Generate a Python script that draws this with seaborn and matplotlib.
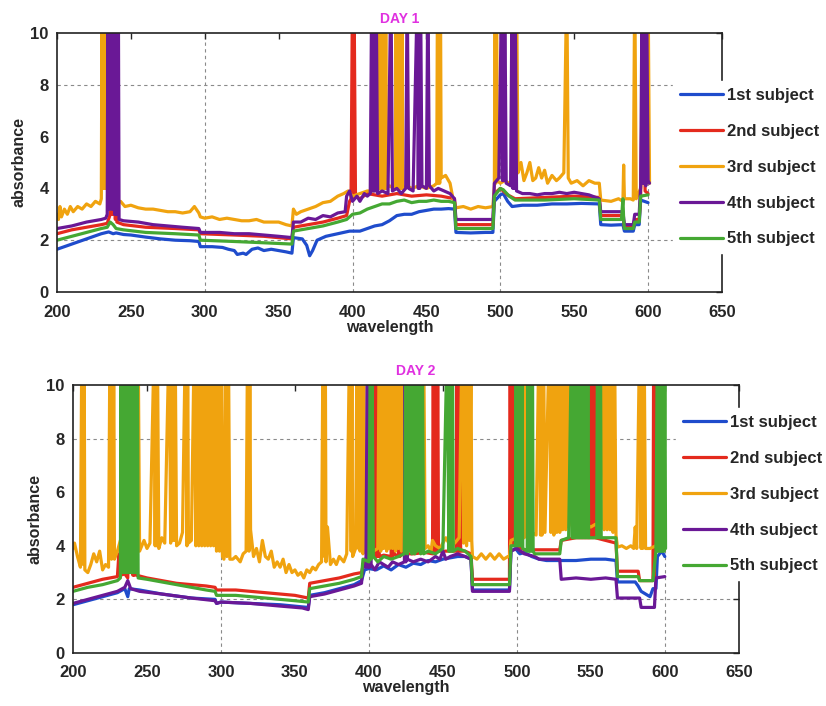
import matplotlib
matplotlib.use("Agg")
import matplotlib.pyplot as plt
import pandas as pd
import seaborn as sns

subjects = ["1st subject", "2nd subject", "3rd subject", "4th subject", "5th subject"]
colors = ["#1f4ccc", "#e42a1d", "#f0a30f", "#6a1896", "#45a833"]

# (wavelength, absorbance); 12 = clipped spike
day1_1st = [(200, 1.65), (205, 1.75), (210, 1.85), (215, 1.95), (220, 2.05), (225, 2.15), (230, 2.25), (235, 2.32),
            (238, 2.25), (240, 2.28), (245, 2.22), (250, 2.2), (260, 2.12), (270, 2.05), (280, 2.0), (290, 1.98),
            (296, 1.95), (297, 1.75), (305, 1.75), (312, 1.72), (316, 1.65), (320, 1.6), (322, 1.45), (326, 1.5),
            (328, 1.45), (332, 1.65), (336, 1.7), (340, 1.6), (345, 1.65), (350, 1.6), (355, 1.55), (359, 1.5),
            (360, 2.1), (366, 2.05), (369, 1.8), (371, 1.4), (373, 1.6), (376, 2.0), (382, 2.15), (390, 2.25),
            (398, 2.35), (405, 2.35), (410, 2.45), (415, 2.55), (420, 2.6), (425, 2.75), (430, 2.95), (435, 3.0),
            (440, 3.0), (445, 3.1), (450, 3.15), (455, 3.2), (460, 3.2), (465, 3.22), (469, 3.2), (470, 2.3),
            (480, 2.28), (490, 2.3), (495, 2.3), (496, 3.5), (500, 3.75), (502, 3.8), (505, 3.5), (508, 3.3),
            (515, 3.35), (525, 3.35), (535, 3.4), (545, 3.4), (555, 3.42), (567, 3.4), (568, 2.6), (575, 2.58),
            (583, 2.6), (584, 2.35), (590, 2.35), (591, 2.6), (594, 2.6), (595, 3.55), (600, 3.45)]

day1_2nd = [(200, 2.25), (210, 2.4), (220, 2.5), (230, 2.6), (234, 2.65), (236, 3.0), (237, 12), (237.5, 3.0),
            (238, 12), (238.5, 3.0), (239, 12), (239.5, 2.8), (240, 12), (240.5, 2.7), (245, 2.6), (260, 2.5),
            (280, 2.45), (296, 2.4), (297, 2.25), (320, 2.2), (340, 2.15), (359, 2.05), (360, 2.5), (370, 2.6),
            (380, 2.7), (390, 2.85), (396, 2.95), (398, 3.5), (399, 3.6), (400, 12), (400.5, 3.6), (401, 12),
            (402, 3.7), (405, 3.6), (410, 3.8), (420, 3.7), (430, 3.8), (440, 3.7), (450, 3.75), (460, 3.7),
            (469, 3.6), (470, 2.6), (495, 2.6), (496, 3.8), (500, 4.0), (505, 3.75), (510, 3.6), (530, 3.65),
            (550, 3.7), (567, 3.65), (568, 2.95), (583, 2.95), (584, 2.5), (590, 2.5), (591, 2.8), (594, 2.8),
            (595, 3.7), (597, 12), (598, 3.9), (600, 3.8)]

day1_3rd = [(200, 3.0), (201, 2.8), (202, 3.3), (203, 2.9), (205, 3.2), (207, 3.0), (209, 3.3), (211, 3.1),
            (214, 3.3), (217, 3.2), (220, 3.4), (223, 3.3), (226, 3.5), (229, 3.4), (230, 3.6), (230.5, 12),
            (231, 4), (231.5, 12), (232, 4), (232.5, 12), (233, 4), (233.5, 12), (234, 4), (234.5, 12), (235, 3.5),
            (236, 3.2), (238, 3.3), (240, 3.4), (243, 3.5), (246, 3.3), (250, 3.35), (255, 3.25), (260, 3.2),
            (265, 3.2), (270, 3.15), (275, 3.1), (280, 3.1), (285, 3.05), (290, 3.1), (293, 3.3), (296, 3.05),
            (297, 2.9), (300, 2.85), (305, 2.9), (310, 2.8), (315, 2.85), (320, 2.8), (325, 2.75), (330, 2.75),
            (335, 2.8), (340, 2.7), (345, 2.7), (350, 2.7), (355, 2.6), (359, 2.55), (360, 3.2), (362, 3.0),
            (365, 3.1), (370, 3.2), (375, 3.3), (380, 3.45), (385, 3.5), (390, 3.7), (394, 3.8), (397, 3.9),
            (400, 3.7), (405, 3.8), (410, 3.9), (414, 3.9), (417, 4), (417.5, 12), (418, 4), (418.5, 12), (419, 4),
            (419.5, 12), (420, 4), (420.5, 12), (421, 4), (421.5, 12), (422, 4), (422.5, 12), (423, 4), (425, 4.1),
            (428, 4), (429, 4), (429.5, 12), (430, 4), (430.5, 12), (431, 4), (431.5, 12), (432, 4), (432.5, 12),
            (433, 4), (433.5, 12), (434, 4), (437, 4.1), (440, 4.0), (445, 4.1), (450, 4.0), (455, 4.1),
            (457, 4.2), (457.5, 12), (458, 4.2), (458.5, 12), (459, 4.2), (459.5, 12), (460, 4.4), (463, 4.5),
            (466, 4.2), (468, 3.6), (469, 3.5), (470, 3.25), (475, 3.3), (480, 3.2), (485, 3.3), (490, 3.25),
            (495, 3.3), (496, 4.1), (496.5, 12), (497, 4.2), (497.5, 12), (498, 4.3), (500, 4.2), (503, 4.3),
            (506, 4.2), (509, 4.3), (511, 12), (512, 4.6), (514, 5.0), (516, 4.3), (518, 4.6), (520, 5.0),
            (522, 4.3), (524, 4.4), (526, 4.8), (528, 4.4), (530, 4.7), (532, 4.2), (535, 4.5), (538, 4.3),
            (540, 4.4), (543, 4.6), (545, 12), (546, 4.4), (548, 4.2), (552, 4.3), (556, 4.1), (560, 4.3),
            (564, 4.2), (567, 4.2), (568, 3.55), (575, 3.5), (580, 3.6), (583, 3.5), (583.5, 4.9), (584, 3.6),
            (588, 3.6), (590, 3.55), (591, 12), (592, 3.6), (595, 4.0), (600, 12), (601, 4.2)]

day1_4th = [(200, 2.45), (210, 2.55), (220, 2.7), (230, 2.8), (233, 2.85), (234, 3.0), (234.5, 12), (235, 3.2),
            (235.5, 12), (236, 3.2), (236.5, 12), (237, 3.2), (237.5, 12), (238, 3.2), (238.5, 12), (239, 3.0),
            (239.5, 12), (240, 3.0), (240.5, 12), (241, 3.0), (241.5, 12), (242, 2.8), (245, 2.75), (255, 2.7),
            (265, 2.6), (275, 2.55), (285, 2.5), (296, 2.45), (297, 2.3), (310, 2.3), (320, 2.25), (330, 2.25),
            (340, 2.2), (350, 2.15), (359, 2.1), (360, 2.7), (365, 2.7), (370, 2.85), (375, 2.8), (380, 2.95),
            (385, 2.9), (390, 3.05), (395, 3.1), (396, 3.7), (398, 3.9), (400, 3.5), (403, 3.7), (405, 3.5),
            (408, 3.8), (410, 3.7), (412, 3.8), (413, 12), (413.5, 3.9), (414, 12), (414.5, 3.9), (415, 12),
            (415.5, 3.9), (416, 12), (417, 3.8), (420, 3.9), (424, 3.8), (426, 12), (427, 3.9), (430, 4.0),
            (433, 3.8), (436, 4.0), (437, 12), (438, 4.0), (441, 3.9), (444, 12), (444.5, 4.0), (445, 12),
            (445.5, 4.0), (446, 12), (447, 4.1), (450, 4.0), (451, 12), (452, 4.1), (455, 3.9), (458, 4.0),
            (462, 3.9), (466, 3.8), (469, 3.6), (470, 2.8), (480, 2.8), (490, 2.8), (495, 2.8), (496, 4.2),
            (499, 4.4), (501, 12), (501.5, 4.3), (502, 12), (502.5, 4.3), (503, 12), (504, 4.2), (507, 4.1),
            (508, 12), (508.5, 4.0), (509, 12), (509.5, 4.0), (510, 12), (511, 3.9), (515, 3.8), (520, 3.8),
            (525, 3.75), (530, 3.8), (535, 3.8), (540, 3.85), (545, 3.8), (550, 3.85), (555, 3.8), (560, 3.75),
            (567, 3.6), (568, 3.1), (575, 3.1), (583, 3.1), (584, 2.6), (590, 2.6), (591, 3.0), (594, 3.0),
            (595, 4.1), (596, 12), (596.5, 4.2), (597, 12), (597.5, 4.2), (598, 12), (598.5, 4.1), (599, 12),
            (600, 4.3), (601, 4.2)]

day1_5th = [(200, 2.0), (210, 2.15), (220, 2.3), (230, 2.45), (234, 2.5), (236, 2.7), (238, 2.6), (240, 2.45),
            (245, 2.4), (260, 2.3), (280, 2.25), (296, 2.2), (297, 2.0), (320, 1.95), (340, 1.9), (359, 1.85),
            (360, 2.35), (370, 2.45), (380, 2.55), (390, 2.7), (396, 2.8), (400, 3.0), (405, 3.05), (410, 3.2),
            (415, 3.3), (420, 3.4), (425, 3.4), (430, 3.5), (435, 3.55), (440, 3.45), (445, 3.5), (450, 3.5),
            (455, 3.55), (460, 3.5), (465, 3.5), (469, 3.45), (470, 2.45), (495, 2.45), (496, 3.7), (500, 4.0),
            (502, 3.95), (506, 3.7), (510, 3.55), (530, 3.55), (550, 3.6), (567, 3.55), (568, 2.8), (582, 2.8),
            (583, 3.6), (583.5, 2.8), (584, 2.45), (590, 2.45), (591, 2.7), (594, 2.7), (595, 3.7), (600, 3.75)]

day2_1st = [(200, 1.8), (210, 1.95), (220, 2.1), (230, 2.25), (235, 2.4), (237, 2.1), (238, 2.4), (245, 2.35),
            (260, 2.2), (280, 2.05), (296, 2.0), (297, 1.85), (300, 1.9), (320, 1.85), (340, 1.8), (355, 1.72),
            (359, 1.7), (360, 2.15), (370, 2.25), (380, 2.4), (390, 2.55), (395, 2.7), (397, 3.1), (400, 3.15),
            (405, 3.1), (410, 3.25), (415, 3.1), (420, 3.3), (425, 3.2), (430, 3.35), (435, 3.3), (440, 3.45),
            (445, 3.4), (450, 3.5), (455, 3.55), (460, 3.6), (465, 3.6), (469, 3.5), (470, 2.35), (495, 2.35),
            (496, 3.8), (499, 3.9), (502, 3.7), (505, 3.75), (510, 3.6), (515, 3.5), (520, 3.45), (530, 3.45),
            (540, 3.45), (550, 3.5), (560, 3.5), (567, 3.45), (568, 2.65), (580, 2.65), (582, 2.5), (584, 2.3),
            (590, 2.1), (592, 2.4), (594, 2.4), (595, 3.6), (598, 3.8), (600, 3.6)]

day2_2nd = [(200, 2.45), (210, 2.6), (220, 2.75), (230, 2.85), (231, 3.7), (232, 2.9), (235, 2.95), (237, 2.8),
            (240, 12), (240.5, 2.9), (241, 12), (241.5, 2.9), (242, 12), (243, 2.9), (250, 2.8), (260, 2.7),
            (270, 2.6), (280, 2.55), (290, 2.5), (296, 2.45), (297, 2.35), (310, 2.35), (320, 2.3), (330, 2.25),
            (340, 2.2), (350, 2.15), (359, 2.05), (360, 2.6), (370, 2.7), (380, 2.8), (390, 2.95), (395, 3.0),
            (397, 3.5), (400, 3.55), (404, 3.6), (404.5, 12), (405, 3.6), (405.5, 12), (406, 3.6), (406.5, 12),
            (407, 3.6), (410, 3.65), (415, 3.6), (415.5, 12), (416, 3.6), (416.5, 12), (417, 3.7), (420, 3.6),
            (420.5, 12), (421, 3.6), (421.5, 12), (422, 3.7), (430, 3.7), (438, 3.75), (443, 3.7), (443.5, 12),
            (444, 3.7), (444.5, 12), (445, 3.8), (445.5, 12), (446, 3.8), (446.5, 12), (447, 3.8), (452, 3.8),
            (459, 3.8), (459.5, 12), (460, 3.8), (460.5, 12), (461, 3.8), (461.5, 12), (462, 3.8), (465, 3.8),
            (469, 3.7), (470, 2.75), (495, 2.75), (495.5, 12), (496, 4.0), (496.5, 12), (497, 4.1), (497.5, 12),
            (498, 4.1), (500, 4.0), (505, 3.85), (515, 3.85), (529, 3.85), (530, 4.2), (540, 4.3), (549, 4.3),
            (549.5, 12), (550, 4.3), (550.5, 12), (551, 4.3), (551.5, 12), (552, 4.3), (552.5, 12), (553, 4.3),
            (560, 4.2), (567, 4.1), (568, 3.05), (582, 3.05), (583, 2.7), (592, 2.7), (592.5, 12), (593, 2.8),
            (593.5, 12), (594, 3.9), (598, 4.0), (600, 4.1)]

day2_3rd = [(200, 3.9), (201, 4.1), (203, 3.6), (205, 3.2), (206, 12), (207, 3.3), (207.5, 12), (208, 3.1),
            (210, 3.0), (212, 3.3), (214, 3.7), (216, 3.4), (218, 3.8), (220, 3.1), (222, 3.3), (224, 3.2),
            (225, 12), (226, 3.5), (226.5, 12), (227, 3.6), (227.5, 12), (228, 3.5), (230, 3.8), (232, 4.2),
            (235, 4.0), (238, 3.6), (241, 3.8), (243, 12), (243.5, 3.8), (244, 12), (245, 3.8), (248, 4.2),
            (250, 3.9), (252, 4.1), (255, 12), (255.5, 4.0), (256, 12), (256.5, 4.0), (257, 12), (258, 3.9),
            (260, 4.3), (262, 4.1), (265, 12), (266, 4.1), (266.5, 12), (267, 4.2), (268, 12), (268.5, 4.2),
            (269, 12), (270, 4.0), (272, 4.1), (274, 4.5), (276, 12), (277, 4.0), (277.5, 12), (278, 4.1),
            (280, 4.2), (282, 12), (283, 4.0), (284, 12), (285, 4.0), (286, 12), (287, 4.0), (288, 12), (289, 4.0),
            (290, 12), (291, 4.0), (292, 12), (293, 4.0), (294, 12), (295, 4.0), (296, 12), (297, 3.8), (298, 12),
            (299, 3.8), (300, 12), (301, 3.6), (302, 3.5), (303, 12), (304, 3.6), (305, 12), (306, 3.5),
            (308, 3.5), (310, 3.6), (313, 3.4), (315, 3.7), (317, 3.8), (318, 12), (319, 3.8), (319.5, 12),
            (320, 4.6), (322, 3.6), (324, 3.9), (326, 3.4), (328, 4.2), (330, 3.6), (332, 3.5), (334, 3.8),
            (336, 3.2), (338, 3.4), (340, 3.2), (342, 3.5), (344, 3.0), (346, 3.3), (348, 3.0), (350, 3.1),
            (352, 2.9), (354, 3.0), (356, 2.8), (358, 3.1), (360, 3.0), (362, 3.2), (364, 3.1), (366, 3.3),
            (368, 3.4), (369, 12), (370, 3.6), (370.5, 12), (371, 3.4), (372, 4.7), (374, 3.3), (376, 3.5),
            (378, 3.3), (380, 3.6), (383, 3.4), (385, 3.7), (387, 12), (388, 3.8), (388.5, 12), (389, 3.6),
            (391, 3.9), (392, 12), (393, 3.9), (393.5, 12), (394, 3.8), (395, 12), (396, 3.7), (396.5, 12),
            (397, 3.8), (400, 3.9), (403, 3.8), (406, 3.9), (407, 12), (408, 3.8), (409, 12), (410, 3.9),
            (411, 12), (412, 3.8), (413, 12), (414, 3.9), (415, 12), (416, 3.9), (417, 12), (418, 3.8), (419, 12),
            (420, 3.9), (421, 12), (422, 3.8), (423, 12), (424, 3.9), (425, 12), (426, 3.8), (427, 12), (428, 3.9),
            (429, 12), (430, 3.9), (431, 12), (432, 3.8), (433, 12), (434, 3.9), (435, 12), (436, 3.8), (437, 12),
            (438, 3.9), (440, 4.0), (442, 3.8), (443, 4.2), (445, 4.0), (448, 3.9), (450, 4.1), (452, 4.3),
            (455, 4.0), (458, 4.1), (461, 4.3), (463, 12), (464, 4.1), (465, 12), (466, 4.0), (467, 12),
            (468, 4.2), (469, 12), (469.5, 4.2), (470, 3.6), (473, 3.5), (476, 3.7), (479, 3.5), (482, 3.7),
            (485, 3.5), (488, 3.7), (491, 3.5), (494, 3.6), (495, 3.6), (496, 4.2), (500, 4.3), (503, 4.2),
            (504, 12), (505, 4.3), (505.5, 12), (506, 4.4), (506.5, 12), (507, 4.4), (510, 4.5), (513, 4.4),
            (515, 12), (516, 4.4), (516.5, 12), (517, 4.4), (518, 12), (519, 4.5), (522, 12), (523, 4.5),
            (524, 12), (525, 4.4), (526, 12), (527, 4.5), (528, 12), (529, 4.5), (530, 12), (531, 4.6), (532, 12),
            (533, 4.6), (534, 12), (535, 4.7), (536, 12), (537, 4.8), (540, 12), (541, 4.8), (542, 12), (543, 4.8),
            (544, 12), (545, 4.7), (546, 12), (547, 4.8), (550, 4.7), (553, 4.8), (556, 4.7), (558, 12),
            (559, 4.6), (560, 12), (561, 4.6), (562, 12), (563, 4.6), (564, 12), (565, 4.5), (566, 12), (567, 4.4),
            (568, 3.95), (571, 4.0), (574, 3.9), (577, 4.0), (579, 3.9), (580, 4.7), (581, 3.9), (583, 12),
            (584, 3.9), (584.5, 12), (585, 3.9), (586, 12), (587, 3.9), (590, 3.9), (594, 4.0), (596, 4.2),
            (600, 4.2)]

day2_4th = [(200, 1.85), (210, 2.0), (220, 2.15), (230, 2.3), (235, 2.45), (237, 2.7), (239, 2.4), (245, 2.3),
            (260, 2.2), (280, 2.05), (296, 1.95), (297, 1.85), (300, 1.9), (320, 1.85), (340, 1.75), (355, 1.68),
            (359, 1.62), (360, 2.1), (370, 2.2), (380, 2.35), (390, 2.5), (395, 2.6), (396, 3.3), (398, 3.2),
            (399, 12), (399.5, 3.2), (400, 12), (400.5, 3.2), (401, 12), (401.5, 3.3), (404, 3.1), (407, 3.4),
            (410, 3.3), (413, 3.2), (416, 3.4), (420, 3.3), (424, 3.4), (424.5, 12), (425, 3.4), (425.5, 12),
            (426, 3.5), (430, 3.4), (435, 3.5), (440, 3.4), (445, 3.6), (448, 3.5), (450, 3.8), (452, 3.5),
            (455, 3.6), (460, 3.7), (465, 3.6), (469, 3.5), (470, 2.3), (495, 2.3), (496, 3.8), (500, 3.9),
            (505, 3.7), (512, 3.6), (515, 3.5), (529, 3.5), (530, 2.75), (540, 2.8), (550, 2.75), (560, 2.8),
            (567, 2.75), (568, 2.05), (583, 2.05), (584, 1.7), (593, 1.7), (594, 2.8), (600, 2.85)]

day2_5th = [(200, 2.3), (210, 2.45), (220, 2.55), (230, 2.7), (232, 2.8), (232.5, 12), (233, 3), (233.5, 12),
            (234, 3), (234.5, 12), (235, 3), (235.5, 12), (236, 3), (236.5, 12), (237, 3), (237.5, 12), (238, 3),
            (238.5, 12), (239, 3), (239.5, 12), (240, 3), (240.5, 12), (241, 3), (241.5, 12), (242, 3),
            (242.5, 12), (243, 3), (243.5, 12), (244, 2.8), (250, 2.75), (260, 2.65), (270, 2.55), (280, 2.45),
            (290, 2.35), (296, 2.3), (297, 2.15), (310, 2.15), (320, 2.1), (330, 2.05), (340, 2.0), (350, 1.95),
            (359, 1.9), (360, 2.4), (370, 2.5), (380, 2.6), (390, 2.75), (395, 2.85), (396, 3.5), (400, 3.4),
            (401, 12), (401.5, 3.5), (402, 12), (403, 3.6), (406, 3.4), (410, 3.6), (415, 3.5), (420, 3.6),
            (424, 3.7), (425, 12), (426, 3.7), (426.5, 12), (427, 3.8), (428, 12), (429, 3.7), (430, 12),
            (431, 3.7), (432, 12), (433, 3.8), (434, 12), (435, 3.7), (436, 12), (437, 3.7), (440, 3.8),
            (445, 3.7), (450, 3.9), (453, 12), (454, 3.8), (454.5, 12), (455, 3.8), (455.5, 12), (456, 3.8),
            (456.5, 12), (457, 3.8), (460, 3.9), (465, 3.8), (469, 3.6), (470, 2.55), (495, 2.55), (496, 4.0),
            (499, 4.0), (499.5, 12), (500, 4.0), (500.5, 12), (501, 4.0), (501.5, 12), (502, 4.0), (502.5, 12),
            (503, 4.0), (503.5, 12), (504, 3.9), (507, 3.8), (507.5, 12), (508, 3.8), (508.5, 12), (509, 3.8),
            (509.5, 12), (510, 3.8), (510.5, 12), (511, 3.8), (512, 3.7), (520, 3.7), (529, 3.7), (530, 4.2),
            (535, 4.3), (537, 12), (537.5, 4.3), (538, 12), (538.5, 4.3), (539, 12), (539.5, 4.3), (540, 12),
            (540.5, 4.3), (541, 12), (541.5, 4.3), (542, 12), (542.5, 4.3), (543, 12), (543.5, 4.3), (544, 12),
            (544.5, 4.3), (545, 12), (545.5, 4.3), (546, 12), (546.5, 4.3), (547, 12), (547.5, 4.3), (548, 12),
            (548.5, 4.3), (549, 4.3), (554, 4.3), (554.5, 12), (555, 4.3), (555.5, 12), (556, 4.3), (556.5, 12),
            (557, 4.3), (560, 4.3), (567, 4.3), (568, 2.85), (582, 2.85), (583, 2.7), (592, 2.7), (594, 3.8),
            (595, 12), (595.5, 3.8), (596, 12), (596.5, 3.8), (597, 12), (597.5, 3.8), (598, 12), (598.5, 3.8),
            (599, 12), (599.5, 3.8), (600, 12), (600.5, 3.9)]

x_ticks = [200, 250, 300, 350, 400, 450, 500, 550, 600, 650]
y_ticks = [0, 2, 4, 6, 8, 10]


def to_frame(series):
    rows = []
    for name, pts in zip(subjects, series):
        for wl, ab in pts:
            rows.append((name, wl, ab))
    return pd.DataFrame(rows, columns=["subject", "wavelength", "absorbance"])


sns.set_style("white")
plt.rcParams["font.family"] = ["Liberation Sans", "DejaVu Sans"]
plt.rcParams["font.weight"] = "bold"

fig = plt.figure(figsize=(8.26, 7.06), dpi=100)
ax1 = fig.add_axes([0.069, 0.5864, 0.805, 0.3669])
ax2 = fig.add_axes([0.0884, 0.0751, 0.806, 0.3796])

panels = [
    (ax1, [day1_1st, day1_2nd, day1_3rd, day1_4th, day1_5th], "DAY 1", (0.815, 0.763)),
    (ax2, [day2_1st, day2_2nd, day2_3rd, day2_4th, day2_5th], "DAY 2", (0.819, 0.300)),
]

for ax, series, title, leg_xy in panels:
    df = to_frame(series)
    sns.lineplot(data=df, x="wavelength", y="absorbance", hue="subject", hue_order=subjects,
                 palette=colors, estimator=None, sort=False, linewidth=2.3, ax=ax)
    ax.set_xlim(200, 650)
    ax.set_ylim(0, 10)
    ax.set_xticks(x_ticks)
    ax.set_yticks(y_ticks)
    # matlab-ish partial grid
    for gx in (300, 400, 500, 600):
        ax.axvline(gx, color="#8a8a8a", lw=0.8, ls=(0, (3, 3)), zorder=0)
    for gy in (2, 8):
        ax.axhline(gy, color="#8a8a8a", lw=0.8, ls=(0, (3, 3)), zorder=0)
    for sp in ax.spines.values():
        sp.set_color("#222222")
        sp.set_linewidth(1.2)
    ax.tick_params(direction="in", top=True, right=True, length=4, labelsize=12, width=1)
    ax.tick_params(axis="x", pad=9)
    ax.tick_params(axis="y", pad=6)
    ax.set_title(title, color="#e030e0", fontsize=10, fontweight="bold", pad=7, x=0.515)
    ax.set_xlabel("wavelength", fontsize=11.5, fontweight="bold", labelpad=0)
    ax.set_ylabel("absorbance", fontsize=11.5, fontweight="bold", labelpad=3)

    handles, labels = ax.get_legend_handles_labels()
    ax.legend(handles, labels, loc="center left", bbox_to_anchor=leg_xy, bbox_transform=fig.transFigure,
              frameon=True, facecolor="white", edgecolor="white", framealpha=1, fancybox=False,
              handlelength=2.6, handletextpad=0.2, labelspacing=1.25, borderpad=0.4, borderaxespad=0,
              prop={"weight": "bold", "size": 12})

fig.savefig("out.png", dpi=100)
